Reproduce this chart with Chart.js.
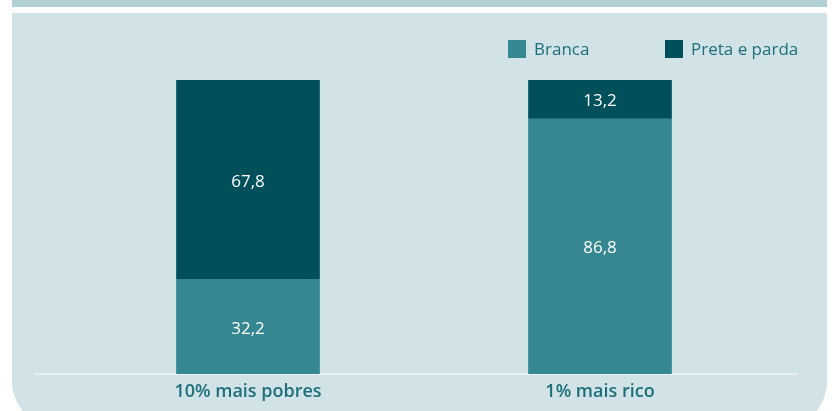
<!DOCTYPE html>
<html>
<head>
<meta charset="utf-8">
<script src="https://cdn.jsdelivr.net/npm/chart.js@4"></script>
<style>
  html, body { margin:0; padding:0; background:#ffffff; }
  #wrap { position:relative; width:835px; height:411px; overflow:hidden; font-family:"Open Sans", sans-serif; }
  #band { position:absolute; left:12px; top:0; width:815px; height:7px; background:#b1d0d5; }
  #panel { position:absolute; left:12px; top:13px; width:815px; height:416px; background:#d1e3e6; border-radius:0 0 48px 48px; }
  #legend { position:absolute; top:39px; left:0; width:835px; height:20px; }
  .lg { position:absolute; top:0; display:flex; align-items:center; color:#1d6f7b; font-size:17px; line-height:20px; }
  .lg span.box { display:inline-block; width:18px; height:18px; margin-right:8px; }
  canvas { position:absolute; left:0; top:0; }
</style>
</head>
<body>
<div id="wrap">
  <div id="band"></div>
  <div id="panel"></div>
  <canvas id="c" width="835" height="411"></canvas>
  <div id="legend"></div>
</div>
<script>
const categories = ["10% mais pobres", "1% mais rico"];
const seriesNames = ["Branca", "Preta e parda"];
const branca = [32.2, 86.8];
const pretaParda = [67.8, 13.2];
const colors = ["#358792", "#00505c"];

// HTML legend
const legendEl = document.getElementById('legend');
const legendX = [508, 665];
seriesNames.forEach((n, i) => {
  const d = document.createElement('div');
  d.className = 'lg';
  d.style.left = legendX[i] + 'px';
  d.innerHTML = '<span class="box" style="background:' + colors[i] + '"></span>' + n;
  legendEl.appendChild(d);
});

const fmt = v => v.toFixed(1).replace('.', ',');

const valueLabels = {
  id: 'valueLabels',
  afterDatasetsDraw(chart) {
    const ctx = chart.ctx;
    ctx.save();
    ctx.fillStyle = '#ffffff';
    ctx.font = '17px "Open Sans", sans-serif';
    ctx.textAlign = 'center';
    ctx.textBaseline = 'middle';
    chart.data.datasets.forEach((ds, di) => {
      chart.getDatasetMeta(di).data.forEach((bar, i) => {
        const y = (bar.y + bar.base) / 2 + 2;
        ctx.fillText(fmt(ds.data[i]), bar.x, y);
      });
    });
    ctx.restore();
  }
};

const baseline = {
  id: 'baseline',
  beforeDatasetsDraw(chart) {
    const ctx = chart.ctx;
    const y = chart.scales.y.getPixelForValue(0);
    ctx.save();
    ctx.strokeStyle = '#f0f6f7';
    ctx.lineWidth = 1.5;
    ctx.beginPath();
    ctx.moveTo(35, y);
    ctx.lineTo(797, y);
    ctx.stroke();
    ctx.restore();
  }
};

new Chart(document.getElementById('c'), {
  type: 'bar',
  data: {
    labels: categories,
    datasets: [
      { label: seriesNames[0], data: branca, backgroundColor: colors[0], barThickness: 143 },
      { label: seriesNames[1], data: pretaParda, backgroundColor: colors[1], barThickness: 143 }
    ]
  },
  options: {
    responsive: false,
    animation: false,
    layout: { padding: { left: 72, right: 59, top: 80, bottom: 0 } },
    plugins: { legend: { display: false }, tooltip: { enabled: false } },
    scales: {
      x: {
        stacked: true,
        grid: { display: false },
        border: { display: false },
        ticks: { color: '#1d6f7b', font: { size: 18, weight: '600', family: '"Open Sans", sans-serif' }, padding: -1 },
        afterFit(s) { s.height = 37; }
      },
      y: {
        stacked: true,
        display: false,
        min: 0,
        max: 100
      }
    }
  },
  plugins: [baseline, valueLabels]
});
</script>
</body>
</html>
